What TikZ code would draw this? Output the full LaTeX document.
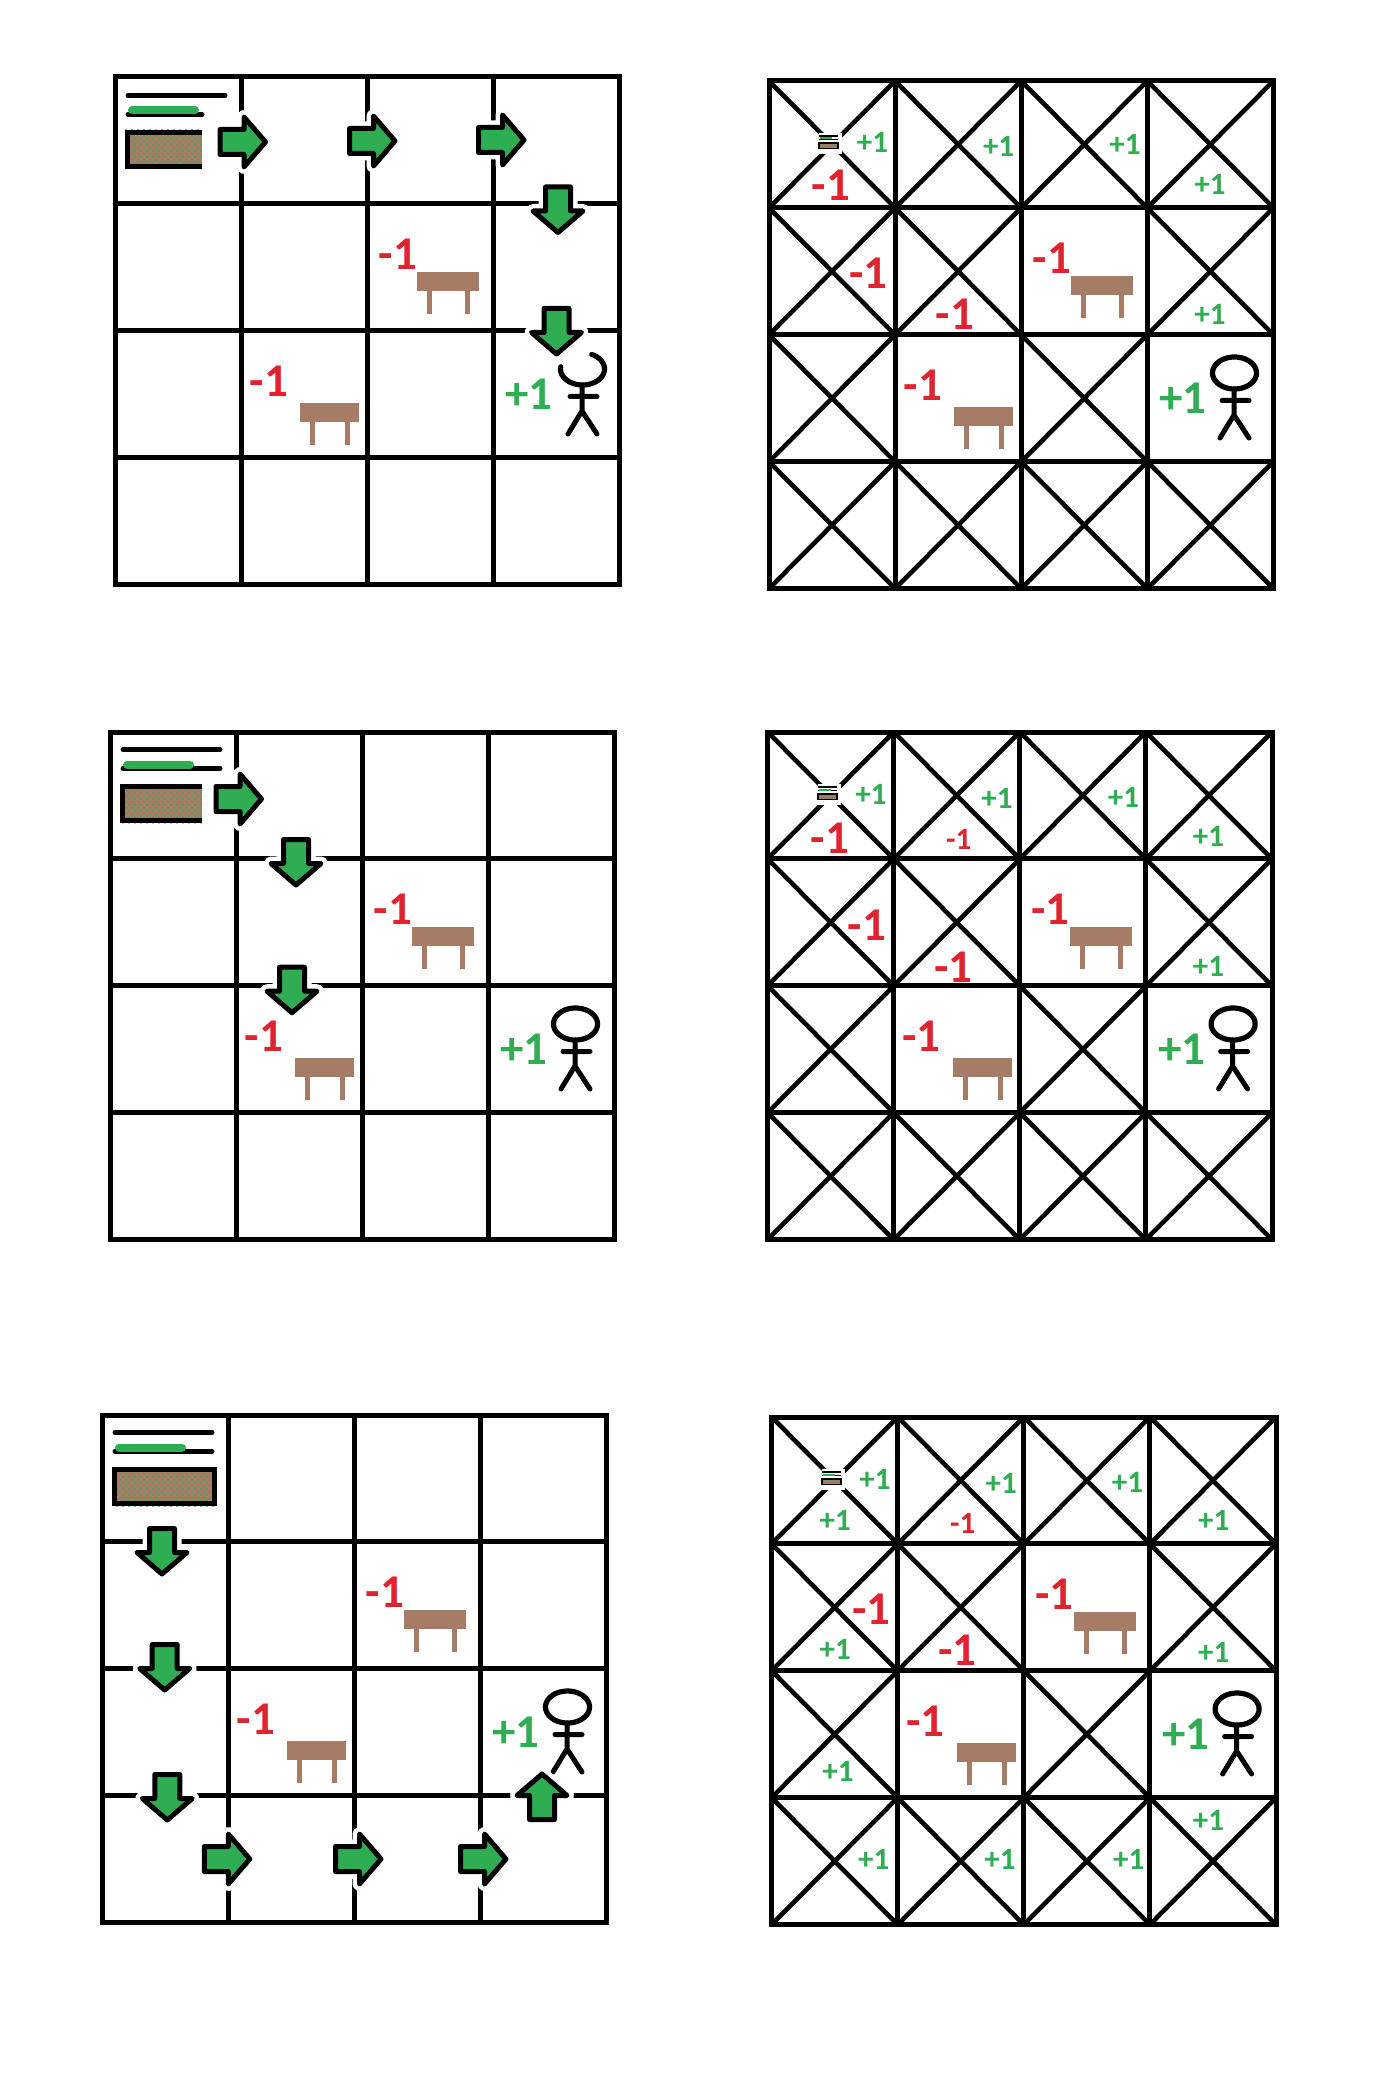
\documentclass[tikz,border=0pt]{standalone}
\usepackage{fontspec}
\usetikzlibrary{patterns}
\setmainfont{Carlito}
\definecolor{gr}{HTML}{2EAD52}
\definecolor{rd}{HTML}{E0242F}
\definecolor{br}{HTML}{A67C66}
\newcounter{lbl}
\newcommand\cellw{126.1}
\newcommand\cellh{126.9}
\tikzset{
  gridline/.style={black,line width=2.5pt},
  crossline/.style={black,line width=2.3pt},
  stick/.style={black,line width=2.5pt,line cap=round},
  lbltxt/.style={inner sep=0pt,font=\bfseries},
  biglbl/.style={lbltxt,font=\bfseries\fontsize{23.5}{23.5}\selectfont},
  smalllbl/.style={lbltxt,font=\bfseries\fontsize{15.5}{15.5}\selectfont}
}
% labels
\newcommand\lab[4]{\stepcounter{lbl}\node[#1,text=#2] (lbl\thelbl) at (#3) {#4};}
% grid of 4x4
\newcommand\gridbase{%
  \draw[gridline] (0,0) rectangle (4*\cellw,4*\cellh);
  \foreach \i in {1,2,3}{
    \draw[gridline] (\i*\cellw,0) -- (\i*\cellw,4*\cellh);
    \draw[gridline] (0,\i*\cellh) -- (4*\cellw,\i*\cellh);
  }}
% crosses in every cell except those with a table or the person
\newcommand\onecross[2]{%
  \draw[crossline] (#1*\cellw,#2*\cellh) -- (#1*\cellw+\cellw,#2*\cellh+\cellh);
  \draw[crossline] (#1*\cellw+\cellw,#2*\cellh) -- (#1*\cellw,#2*\cellh+\cellh);}
\newcommand\crosses{%
  \foreach \i/\j in {0/0,1/0,2/0,3/0,0/1,1/1,3/1,0/2,2/2,0/3,1/3,2/3,3/3}{\onecross{\i}{\j}}}
\newcommand\onetable[3]{%
  \fill[br] (#1,#2) rectangle (#1+#3,#2+19);
  \fill[br] (#1+10,#2+19) rectangle (#1+15,#2+42);
  \fill[br] (#1+#3-14,#2+19) rectangle (#1+#3-9,#2+42);}
\newcommand\furniture{%
  \onetable{302}{195}{62}
  \onetable{185}{326}{59}
  \lab{biglbl}{rd}{283,177}{-1}
  \lab{biglbl}{rd}{154,304}{-1}
  \lab{biglbl}{gr}{414,317}{+1}}
% person: #1,#2 = angle range of the head
\newcommand\person[2]{%
  \draw[stick,line width=2.6pt] plot[smooth,domain=#1:#2,samples=60] ({465.5+22*cos(\x)},{292+16*sin(\x)});
  \draw[stick] (465,308) -- (465,334) (453,319.5) -- (480,319.5) (451,357) -- (465,334) -- (480,357);}
% big start picture
\newcommand\bigicon[2]{%
  \draw[black,line width=2.5pt,line cap=round] (13,17.5) -- (110,17.5);
  \draw[black,line width=2.5pt,line cap=round] (13,36.5) -- (#1,36.5);
  \draw[gr,line width=4pt,line cap=round] (17,32.5) -- (80,32.5);
  \fill[br] (10,52) rectangle (#2,91);
  \fill[pattern=crosshatch dots,pattern color=gr] (10,52) rectangle (#2,91);
  \draw[black,line width=2.5pt] (#2,54.5) -- (12.5,54.5) -- (12.5,88.8) -- (#2,88.8);}
\newcommand\smallicon{%
  \fill[white] (50,52) rectangle (73,73);
  \draw[black,line width=.6pt] (50,55) -- (69,55) (50,58.5) -- (69,58.5);
  \draw[gr,line width=1pt] (51,57.5) -- (63,57.5);
  \draw[black,fill=br!85!gr,line width=.9pt] (50,62) rectangle (69,67.5);}
% arrow: centre x, centre y, direction dx, dy (dy up)
\newcommand\arrowoutline{(-23.5,-12.5) -- (0.5,-12.5) -- (0.5,-25) -- (22,0) -- (0.5,25) -- (0.5,12.5) -- (-23.5,12.5) -- cycle}
\newcommand\arr[4]{%
  \begin{scope}[cm={#3,#4,-(#4),#3,(#1,#2)}]
    \draw[white,line width=7pt,line join=round,fill=white] (-23.5,-12.5) -- (0.5,-12.5) -- (0.5,-25) -- (22,0) -- (0.5,25) -- (0.5,12.5) -- (-23.5,12.5) -- cycle;
    \draw[black,fill=gr,line width=2.5pt,line join=round] (-23.5,-12.5) -- (0.5,-12.5) -- (0.5,-25) -- (22,0) -- (0.5,25) -- (0.5,12.5) -- (-23.5,12.5) -- cycle;
  \end{scope}}
\begin{document}
\begin{tikzpicture}[x=.5pt,y=-.5pt]
\useasboundingbox (0,0) rectangle (1388,2080);
% ---- row 1 left
\begin{scope}[shift={(115,77)}]
  \gridbase
  \furniture
  \begin{scope}[shift={(2,0)}]\person{-65}{188}\end{scope}
  \begin{scope}[shift={(0,1)}]\bigicon{87}{87}\end{scope}
\end{scope}
\arr{243.5}{142}{1}{0}
\arr{373}{141}{1}{0}
\arr{502}{140}{1}{0}
\arr{558}{210.5}{0}{-1}
\arr{556.5}{332}{0}{-1}
% ---- row 1 right
\begin{scope}[shift={(769,81)}]
  \crosses
  \gridbase
  \smallicon
  \furniture
  \person{0}{360}
\end{scope}
\lab{smalllbl}{gr}{872.5,142}{+1}
\lab{smalllbl}{gr}{998.6,146}{+1}
\lab{smalllbl}{gr}{1125,144.8}{+1}
\lab{smalllbl}{gr}{1210,184.6}{+1}
\lab{smalllbl}{gr}{1210,314.7}{+1}
\lab{biglbl}{rd}{831,185}{-1}
\lab{biglbl}{rd}{868.5,273.6}{-1}
\lab{biglbl}{rd}{954.8,314.7}{-1}
% ---- row 2 left
\begin{scope}[shift={(110,732)}]
  \gridbase
  \furniture
  \person{0}{360}
  \bigicon{110}{92}
\end{scope}
\arr{239.5}{799}{1}{0}
\arr{296}{863}{0}{-1}
\arr{292}{990.7}{0}{-1}
% ---- row 2 right
\begin{scope}[shift={(767.6,732)}]
  \crosses
  \gridbase
  \smallicon
  \furniture
  \person{0}{360}
\end{scope}
\lab{smalllbl}{gr}{871,794}{+1}
\lab{smalllbl}{gr}{997,798}{+1}
\lab{smalllbl}{gr}{1123.5,797}{+1}
\lab{smalllbl}{gr}{1208.5,836.6}{+1}
\lab{smalllbl}{gr}{1208.5,966.8}{+1}
\lab{smalllbl}{rd}{958.8,839.3}{-1}
\lab{biglbl}{rd}{830,838}{-1}
\lab{biglbl}{rd}{867,925.6}{-1}
\lab{biglbl}{rd}{953.5,966.8}{-1}
% ---- row 3 left
\begin{scope}[shift={(102,1415)}]
  \gridbase
  \furniture
  \person{0}{360}
  \bigicon{110}{115}
  \draw[black,line width=2.5pt] (112.5,52) -- (112.5,91);
\end{scope}
\arr{162}{1552}{0}{-1}
\arr{164.7}{1668}{0}{-1}
\arr{167.3}{1798}{0}{-1}
\arr{227.8}{1859}{1}{0}
\arr{359}{1859}{1}{0}
\arr{484}{1859}{1}{0}
\arr{542}{1796}{0}{1}
% ---- row 3 right
\begin{scope}[shift={(771.6,1417)}]
  \crosses
  \gridbase
  \smallicon
  \furniture
  \person{0}{360}
\end{scope}
\lab{smalllbl}{gr}{875,1479.4}{+1}
\lab{smalllbl}{gr}{1001.3,1483.4}{+1}
\lab{smalllbl}{gr}{1127.5,1482}{+1}
\lab{smalllbl}{gr}{1213.8,1520.6}{+1}
\lab{smalllbl}{gr}{1213.8,1652}{+1}
\lab{smalllbl}{gr}{835.3,1520.6}{+1}
\lab{smalllbl}{gr}{835.3,1649.4}{+1}
\lab{smalllbl}{gr}{838,1771.6}{+1}
\lab{smalllbl}{gr}{873.8,1859}{+1}
\lab{smalllbl}{gr}{1000,1859}{+1}
\lab{smalllbl}{gr}{1128.8,1859}{+1}
\lab{smalllbl}{gr}{1208.5,1820.7}{+1}
\lab{smalllbl}{rd}{962.8,1523.2}{-1}
\lab{biglbl}{rd}{871.2,1609.5}{-1}
\lab{biglbl}{rd}{957.5,1650.7}{-1}
\end{tikzpicture}
\end{document}
